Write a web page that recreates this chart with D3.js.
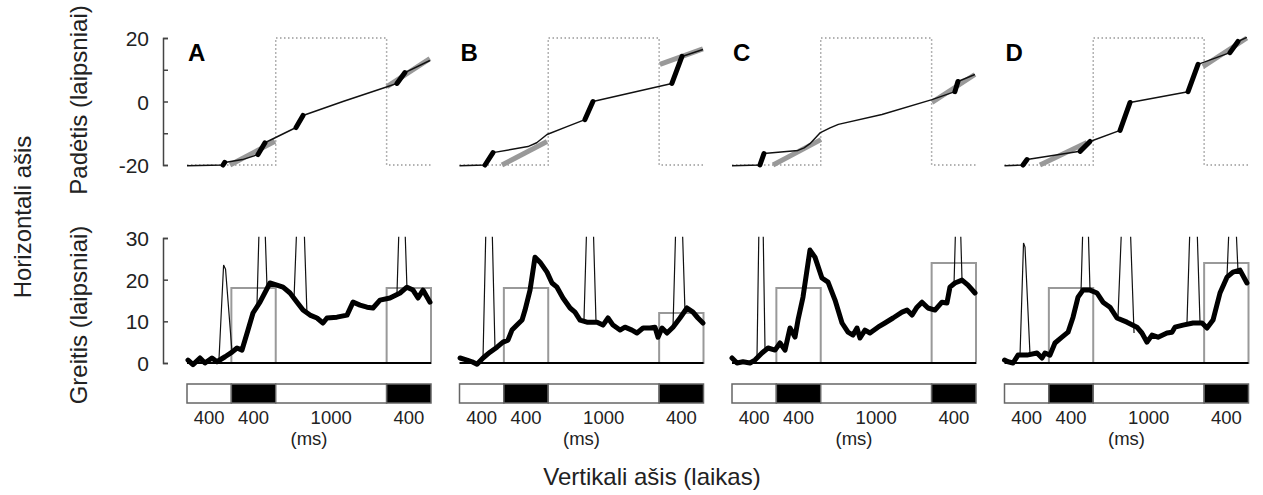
<!DOCTYPE html>
<html lang="en">
<head>
  <meta charset="UTF-8">
  <title>Akių judesiai</title>
  <script src="https://cdn.jsdelivr.net/npm/d3@7"></script>
  <style>
  body { margin: 0; background: #fff; }
  svg { display: block; font-family: Arial, "Liberation Sans", sans-serif; }
  .axis path, .axis line { stroke: #444; stroke-width: 1.5px; }
  .axis text { font-size: 21px; fill: #222; }
  .lbl { font-size: 24px; fill: #222; }
  .ms { font-size: 18.5px; fill: #222; }
  .letter { font-size: 24px; font-weight: bold; fill: #000; }
  </style>
</head>
<body>
<svg id="chart" width="1263" height="495"></svg>
<script>
// time of one trial (ms) and the phases of the timeline bar
const phases = [400, 400, 1000, 400];
const phaseFill = ['#fff', '#000', '#fff', '#000'];
const letters = ['A', 'B', 'C', 'D'];
const posTicks = [-20, -10, 0, 10, 20];
const velTicks = [0, 10, 20, 30];

// eye position [ms, deg]
const eyeA = [[0,-20.2],[325,-20],[340,-19.2],[500,-18.3],[640,-16.7],[703,-13],[983,-8.2],[1046,-4.4],[1406,0],[1812,4.7],[1893,5.7],[1965,9.1],[2190,12.9]];
const eyeB = [[0,-20.2],[230,-20],[302,-16.1],[617,-14.2],[696,-13],[789,-10.4],[969,-7.9],[1131,-5.7],[1203,0],[1915,5.7],[2006,14.2],[2195,16.4]];
const eyeC = [[0,-20.2],[252,-20],[288,-16.4],[595,-15.4],[650,-14.6],[703,-13.3],[793,-9.9],[884,-8.3],[959,-7.2],[1352,-4.1],[1803,0.6],[2010,3.1],[2037,6.3],[2190,8.5]];
const eyeD = [[0,-20.2],[167,-20],[203,-18.3],[681,-15.7],[771,-12.6],[1042,-9.1],[1132,-0.3],[1655,3.1],[1745,11.7],[2033,15.4],[2105,18.9],[2185,20.2]];
// saccade intervals [from, to] ms
const saccA = [[325,340],[640,703],[983,1046],[1893,1965]];
const saccB = [[230,302],[1131,1203],[1915,2006]];
const saccC = [[252,288],[2010,2037]];
const saccD = [[167,203],[681,771],[1042,1132],[1655,1745],[2033,2105]];
// target ramps (grey)
const rampA = [[[388,-20],[793,-12.5]], [[1803,4.7],[2190,13.5]]];
const rampB = [[[383,-20],[789,-12.6]], [[1807,11.7],[2195,16.6]]];
const rampC = [[[370,-20],[802,-12]], [[1803,-0.3],[2190,8.5]]];
const rampD = [[[320,-20],[743,-12.9]], [[1790,11],[2185,20]]];
// target step (dotted)
const stepT = [0, 800, 800, 1800, 1800, 2200];
const stepP = [-20, -20, 20, 20, -20, -20];

// smoothed eye velocity [ms, deg/s]
const velA = [[9,0.7],[54,-0.4],[117,1.2],[162,0],[225,1.2],[270,0.3],[343,1.5],[406,2.6],[451,3.6],[496,3.1],[550,7.9],[595,12],[658,14.6],[748,19.2],[811,18.7],[866,18.2],[929,16.8],[992,14.6],[1046,12.7],[1109,11.5],[1172,10.8],[1226,9.6],[1262,10.8],[1352,11],[1443,11.5],[1497,14.6],[1560,13.9],[1623,13.4],[1677,13.2],[1740,15.1],[1830,15.6],[1921,16.8],[1983,18.2],[2038,17.5],[2083,15.6],[2128,17.5],[2191,14.6]];
const velB = [[5,1.2],[68,0.7],[113,0.3],[158,-0.3],[212,1.2],[275,2.6],[338,3.8],[392,5],[437,5.5],[473,7.9],[518,9.1],[564,10.3],[591,12.7],[636,17.5],[681,25.4],[726,24.2],[789,21.8],[834,19.2],[879,18.2],[933,15.6],[997,13.2],[1041,12.2],[1087,10.3],[1149,9.8],[1240,9.8],[1294,9.1],[1339,10.8],[1384,9.1],[1447,7.9],[1492,8.6],[1555,7.9],[1600,7.2],[1655,8.4],[1718,8.4],[1763,8.6],[1790,6.2],[1826,8.4],[1871,7.2],[1925,8.6],[1988,10.8],[2051,13.2],[2105,12.2],[2150,10.8],[2195,9.6]];
const velC = [[0,1.2],[45,0],[99,0.3],[162,0],[207,0.7],[270,2.4],[325,3.6],[388,3.1],[433,4.8],[478,3.1],[523,8.4],[568,6.2],[595,10.3],[640,15.8],[703,27.1],[748,25.4],[811,20.4],[866,19.4],[929,15.1],[992,9.6],[1046,7.4],[1091,6.7],[1127,8.4],[1154,6],[1199,7.9],[1244,7.2],[1316,8.6],[1379,9.6],[1452,10.8],[1533,12.2],[1578,12.7],[1623,11.5],[1668,13.4],[1713,14.6],[1767,13.2],[1830,12.7],[1893,14.6],[1938,14.4],[1965,18.2],[2010,19.2],[2074,19.9],[2128,18.7],[2191,16.8]];
const velD = [[0,0.7],[32,0.3],[77,0],[122,1.9],[203,1.9],[293,2.4],[338,1.2],[365,2.4],[410,1.9],[455,4.8],[518,6.2],[573,7.4],[618,11],[663,15.8],[708,17.5],[771,17.5],[834,16.8],[888,14.6],[951,13.4],[1014,10.8],[1104,9.8],[1194,8.6],[1239,7.2],[1285,5],[1330,6.7],[1384,6.2],[1465,7.2],[1510,7.4],[1537,8.6],[1609,9.1],[1700,9.6],[1781,9.6],[1826,8.4],[1880,10.3],[1943,16.8],[2006,20.6],[2060,21.8],[2123,22.3],[2186,19.2]];
// raw velocity spikes [tLeft, vLeft, tRight, vRight, peak] (peak 40 = off scale)
const spikesA = [[289,1.2,406,2.6,23.5],[631,14,721,18.5,40],[965,15.5,1082,11.5,40],[1893,16.5,1983,18.2,40]];
const spikesB = [[212,1.2,320,3.5,40],[1122,10,1231,9.8,40],[1925,8.6,2033,12.5,40]];
const spikesC = [[225,0.7,298,2.8,40],[2002,19,2074,19.9,40]];
const spikesD = [[140,1.9,230,2,28.8],[690,17.2,771,17.5,40],[1023,10.8,1168,7.2,40],[1645,9.3,1763,9.6,40],[2006,20.6,2105,22.2,40]];
// target velocity boxes [from, to, deg/s]
const boxA = [[400,800,18],[1800,2200,18]];
const boxB = [[400,800,18],[1800,2200,12]];
const boxC = [[400,800,18],[1800,2200,24]];
const boxD = [[400,800,18],[1800,2200,24]];

const panels = [
  {eye: eyeA, sacc: saccA, ramp: rampA, vel: velA, spikes: spikesA, box: boxA},
  {eye: eyeB, sacc: saccB, ramp: rampB, vel: velB, spikes: spikesB, box: boxB},
  {eye: eyeC, sacc: saccC, ramp: rampC, vel: velC, spikes: spikesC, box: boxC},
  {eye: eyeD, sacc: saccD, ramp: rampD, vel: velD, spikes: spikesD, box: boxD},
];

const svg = d3.select('#chart');
const total = d3.sum(phases);
const panelW = 244, panelStep = 272.5, left0 = 187;
const yPos = d3.scaleLinear().domain([-20, 20]).range([165, 38]);
const yVel = d3.scaleLinear().domain([0, 30]).range([363, 238]);
const barTop = 384, barH = 19;

svg.append('clipPath').attr('id', 'velclip')
  .append('rect').attr('x', 0).attr('y', yVel(30.3)).attr('width', 1263).attr('height', 200);

// left axes
svg.append('g').attr('class', 'axis').attr('transform', 'translate(163,0)')
  .call(d3.axisLeft(yPos).tickValues(posTicks).tickSize(-5).tickPadding(14)
    .tickFormat(d => d % 20 === 0 ? String(d) : ''))
  .call(g => g.select('.domain').attr('fill', 'none'));
svg.append('g').attr('class', 'axis').attr('transform', 'translate(163,0)')
  .call(d3.axisLeft(yVel).tickValues(velTicks).tickSize(-5).tickPadding(14)
    .tickFormat(d => String(d)))
  .call(g => g.select('.domain').attr('fill', 'none'));
svg.selectAll('.axis .tick text').attr('dy', '0.36em');

svg.append('text').attr('class', 'lbl').attr('text-anchor', 'middle')
  .attr('transform', 'translate(31,217) rotate(-90)').text('Horizontali ašis');
svg.append('text').attr('class', 'lbl').attr('text-anchor', 'middle')
  .attr('transform', 'translate(87,100) rotate(-90)').text('Padėtis (laipsniai)');
svg.append('text').attr('class', 'lbl').attr('text-anchor', 'middle')
  .attr('transform', 'translate(87,315) rotate(-90)').text('Greitis (laipsniai)');
svg.append('text').attr('class', 'lbl').attr('text-anchor', 'middle')
  .attr('x', 652).attr('y', 485).text('Vertikali ašis (laikas)');

panels.forEach((p, i) => {
  const x0 = left0 + i * panelStep;
  const x = d3.scaleLinear().domain([0, total]).range([x0, x0 + panelW]);
  const g = svg.append('g');

  // position ----------------------------------------------------------
  const line = d3.line().x(d => x(d[0])).y(d => yPos(d[1]));
  g.append('path')
    .datum(stepT.map((t, k) => [t, stepP[k]]))
    .attr('d', line)
    .attr('fill', 'none').attr('stroke', '#999').attr('stroke-width', 1.5)
    .attr('stroke-dasharray', '1.5,2.5');
  p.ramp.forEach(r => {
    g.append('path').datum(r).attr('d', line)
      .attr('fill', 'none').attr('stroke', '#999').attr('stroke-width', 5);
  });
  g.append('path').datum(p.eye).attr('d', line)
    .attr('fill', 'none').attr('stroke', '#111').attr('stroke-width', 1.5)
    .attr('stroke-linejoin', 'round');
  p.sacc.forEach(s => {
    g.append('path').datum(p.eye.filter(d => d[0] >= s[0] && d[0] <= s[1]))
      .attr('d', line)
      .attr('fill', 'none').attr('stroke', '#000').attr('stroke-width', 5)
      .attr('stroke-linecap', 'round');
  });
  g.append('text').attr('class', 'letter').attr('x', x0 + 1).attr('y', 61).text(letters[i]);

  // velocity ----------------------------------------------------------
  const vline = d3.line().x(d => x(d[0])).y(d => yVel(d[1]));
  const gv = g.append('g').attr('clip-path', 'url(#velclip)');
  p.box.forEach(b => {
    gv.append('rect')
      .attr('x', x(b[0])).attr('y', yVel(b[2]))
      .attr('width', x(b[1]) - x(b[0])).attr('height', yVel(0) - yVel(b[2]))
      .attr('fill', 'none').attr('stroke', '#999').attr('stroke-width', 2);
  });
  p.spikes.forEach(s => {
    const w = s[2] - s[0];
    const pts = s[4] >= 30
      ? [[s[0], s[1]], [s[0] + w * 0.3, s[4]], [s[2] - w * 0.3, s[4]], [s[2], s[3]]]
      : [[s[0], s[1]], [s[0] + w * 0.35, s[4]], [s[0] + w * 0.5, s[4] - 1], [s[2], s[3]]];
    gv.append('path').datum(pts).attr('d', vline)
      .attr('fill', 'none').attr('stroke', '#111').attr('stroke-width', 1.2);
  });
  g.append('line')
    .attr('x1', x(0)).attr('x2', x(total)).attr('y1', yVel(0)).attr('y2', yVel(0))
    .attr('stroke', '#000').attr('stroke-width', 2);
  gv.append('path').datum(p.vel).attr('d', vline)
    .attr('fill', 'none').attr('stroke', '#000').attr('stroke-width', 5)
    .attr('stroke-linejoin', 'round').attr('stroke-linecap', 'round');

  // timeline ----------------------------------------------------------
  let acc = 0;
  phases.forEach((ph, k) => {
    const a = acc, b = acc + ph;
    g.append('rect')
      .attr('x', x(a)).attr('y', barTop).attr('width', x(b) - x(a)).attr('height', barH)
      .attr('fill', phaseFill[k]).attr('stroke', '#666').attr('stroke-width', 1.5);
    g.append('text').attr('class', 'ms').attr('text-anchor', 'middle')
      .attr('x', x((a + b) / 2)).attr('y', 424).text(ph);
    acc = b;
  });
  g.append('text').attr('class', 'ms').attr('text-anchor', 'middle')
    .attr('x', x(total / 2)).attr('y', 445).text('(ms)');
});
</script>
</body>
</html>
